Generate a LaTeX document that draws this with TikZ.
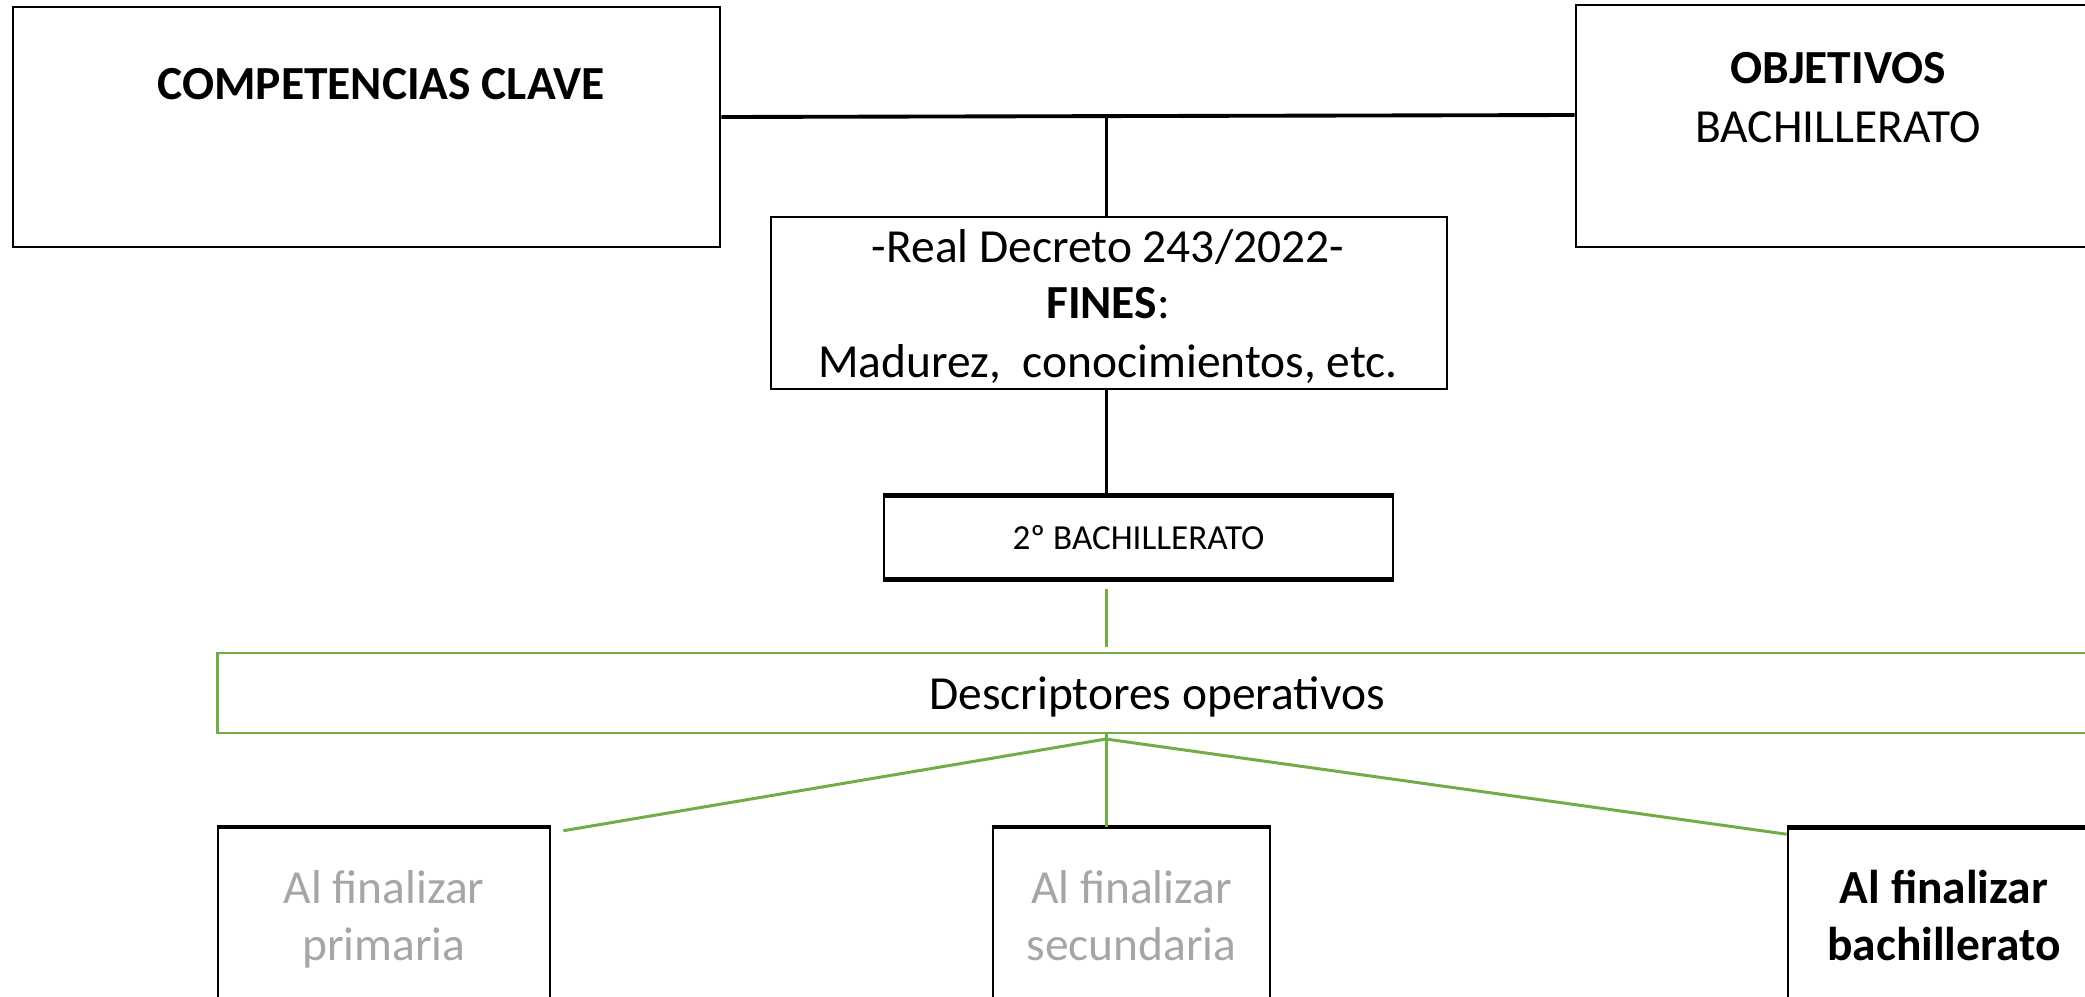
\documentclass[tikz,border=0pt]{standalone}
\usepackage{fontspec}
\setmainfont{Carlito}
\usepackage{tikz}
\usetikzlibrary{positioning}
\definecolor{descgreen}{HTML}{70AD47}
\definecolor{fadedgray}{HTML}{A6A6A6}
\newcommand{\mainsize}{\fontsize{13.5}{16.2}\selectfont}
\tikzset{
  every picture/.style = {
    x = 0.01cm,
    y = -0.01cm,
  }
  ,
  box/.style = {
    rectangle,
    draw,
    line width = 0.7pt,
    inner sep = 0pt
  }
  , % green frame
  green-box/.style = {
    box,
    draw = descgreen
  }
  , % texts in the boxes
  label-text/.style = {
    anchor = base,
    align = center,
    font = \mainsize
  }
  ,
  small-text/.style = {
    anchor = base,
    font = \fontsize{10}{12}\selectfont
  }
  , % connectors
  link/.style = {
    draw,
    line width = 0.85pt
  }
  ,
  green-link/.style = {
    link,
    draw = descgreen
  }
}

\begin{document}
\begin{tikzpicture}
\useasboundingbox (0,0) rectangle (2085,996);
\node [box, minimum width=7.07cm, minimum height=2.40cm] (cc) at (366.5,127) {};
\node [box, minimum width=5.24cm, minimum height=2.42cm] (obj) at (1838,126) {};
\node [box, minimum width=6.76cm, minimum height=1.72cm] (fines) at (1109,303) {};
\node [box, minimum width=5.09cm, minimum height=0.81cm] (bach2) at (1138.5,537.5) {};
\node [green-box, minimum width=18.78cm, minimum height=0.80cm] (desc) at (1157,693) {};
\node [box, minimum width=3.32cm, minimum height=2.22cm] (prim) at (384,939) {};
\node [box, minimum width=2.77cm, minimum height=2.22cm] (sec) at (1131.5,939) {};
\node [box, minimum width=3.12cm, minimum height=2.22cm] (bachf) at (1944,939.5) {};

% heavier edges
\draw [line width=1.3pt] (bach2.north west) -- (bach2.north east);
\draw [line width=1.3pt] (bach2.south west) -- (bach2.south east);
\foreach \b in {prim, sec, bachf}
  \draw [line width=1.2pt] (\b.north west) -- (\b.north east);

\node [label-text, font=\mainsize\bfseries] (cc-text) at (381,99) {COMPETENCIAS CLAVE};
\node [label-text, font=\mainsize\bfseries] (obj-title) at (1838,83) {OBJETIVOS};
\node [label-text] (obj-text) at (1838,142) {BACHILLERATO};
\node [label-text] (fines-law) at (1108,262) {-Real Decreto 243/2022-};
\node [label-text] (fines-title) at (1108,318) {\textbf{FINES}:};
\node [label-text] (fines-text) at (1108,377) {Madurez,\ \ conocimientos, etc.};
\node [small-text] (bach2-text) at (1138.5,549) {2º BACHILLERATO};
\node [label-text] (desc-text) at (1157,709) {Descriptores operativos};
\node [label-text, text=fadedgray] (prim-a) at (384,903) {Al finalizar};
\node [label-text, text=fadedgray] (prim-b) at (384,960) {primaria};
\node [label-text, text=fadedgray] (sec-a) at (1131.5,903) {Al finalizar};
\node [label-text, text=fadedgray] (sec-b) at (1131.5,960) {secundaria};
\node [label-text, font=\mainsize\bfseries] (bachf-a) at (1944,903) {Al finalizar};
\node [label-text, font=\mainsize\bfseries] (bachf-b) at (1944,960) {bachillerato};

\coordinate (top) at (1106,115);
\coordinate (fork) at (1106,739);
\path [link, line width=1.1pt] ([yshift=0.1cm]cc.east) edge ([yshift=0.11cm]obj.west);
\path [link] (top) edge (top |- fines.north);
\path [link] (top |- fines.south) edge (top |- bach2.north);

\path [green-link] ([yshift=-0.1cm]top |- bach2.south) edge ([yshift=0.05cm]top |- desc.north);
\path [green-link] (fork) edge ([xshift=0.12cm, yshift=-0.04cm]prim.north east);
\path [green-link] (top |- desc.south) edge (top |- sec.north);
\path [green-link] (fork) edge ([yshift=-0.07cm]bachf.north west);
\end{tikzpicture}
\end{document}
